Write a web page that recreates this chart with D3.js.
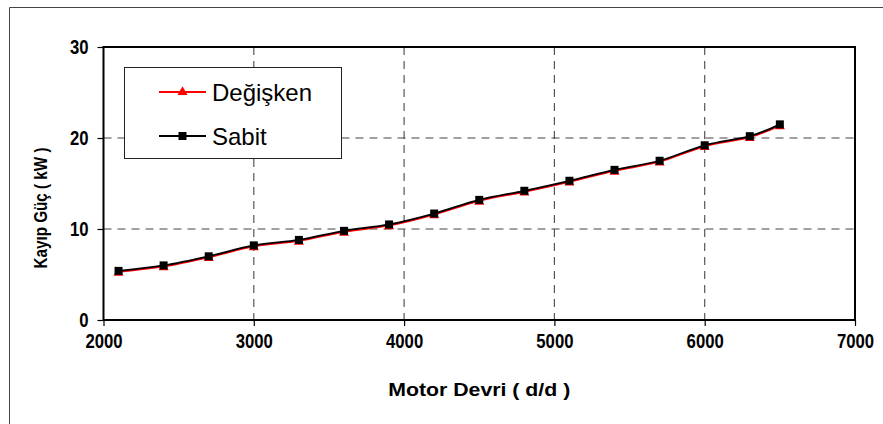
<!DOCTYPE html>
<html>
<head>
<meta charset="utf-8">
<script src="https://cdn.jsdelivr.net/npm/d3@7"></script>
<style>
  html, body { margin: 0; padding: 0; background: #fff; }
  svg { display: block; }
  .tick-label { font-family: "Liberation Sans", Arial, sans-serif; font-weight: bold; font-size: 21px; fill: #000; }
  .axis-title { font-family: "Liberation Sans", Arial, sans-serif; font-weight: bold; font-size: 19px; fill: #000; }
  .legend-text { font-family: "Liberation Sans", Arial, sans-serif; font-size: 24px; fill: #000; }
</style>
</head>
<body>
<script>
// Engine speed (rpm) and lost power (kW) for the two configurations
const rpm      = [2100, 2400, 2700, 3000, 3300, 3600, 3900, 4200, 4500, 4800, 5100, 5400, 5700, 6000, 6300, 6500];
const sabit    = [5.4, 6.0, 7.0, 8.2, 8.8, 9.8, 10.5, 11.7, 13.2, 14.2, 15.3, 16.5, 17.5, 19.2, 20.2, 21.5];
const degisken = [5.3, 5.9, 6.9, 8.1, 8.7, 9.7, 10.4, 11.6, 13.1, 14.1, 15.2, 16.4, 17.4, 19.1, 20.1, 21.4];

const xTicks = [2000, 3000, 4000, 5000, 6000, 7000];
const yTicks = [0, 10, 20, 30];

const W = 883, H = 424;
const plot = { left: 103.5, right: 855, top: 47, bottom: 320 };

const svg = d3.select("body").append("svg").attr("width", W).attr("height", H);

// outer chart frame
svg.append("path")
  .attr("d", `M9.5,${H} L9.5,7.5 L${W},7.5`)
  .attr("fill", "none").attr("stroke", "#444").attr("stroke-width", 1);

const x = d3.scaleLinear().domain([2000, 7000]).range([plot.left, plot.right]);
const y = d3.scaleLinear().domain([0, 30]).range([plot.bottom, plot.top]);

// dashed gridlines
const grid = svg.append("g");
grid.selectAll("line.v").data(xTicks.slice(1, -1)).enter().append("line")
  .attr("x1", d => x(d)).attr("x2", d => x(d))
  .attr("y1", plot.top).attr("y2", plot.bottom)
  .attr("stroke", "#555").attr("stroke-width", 1.2).attr("stroke-dasharray", "8,6");
grid.selectAll("line.h").data(yTicks.slice(1, -1)).enter().append("line")
  .attr("x1", plot.left).attr("x2", plot.right)
  .attr("y1", d => y(d)).attr("y2", d => y(d))
  .attr("stroke", "#444").attr("stroke-width", 1.2).attr("stroke-dasharray", "8,6");

// axes
const xAxis = d3.axisBottom(x).tickValues(xTicks).tickSize(6).tickPadding(7).tickFormat(d3.format("d"));
const yAxis = d3.axisLeft(y).tickValues(yTicks).tickSize(6).tickPadding(9).tickFormat(d3.format("d"));

const gx = svg.append("g").attr("transform", `translate(0,${plot.bottom})`).call(xAxis);
const gy = svg.append("g").attr("transform", `translate(${plot.left},0)`).call(yAxis);
[gx, gy].forEach(g => {
  g.select(".domain").remove();
  g.selectAll(".tick line").attr("stroke", "#000").attr("stroke-width", 1.2);
  g.selectAll(".tick text").attr("class", "tick-label")
    // condensed digits
    .attr("textLength", d => String(d).length * 9.3)
    .attr("lengthAdjust", "spacingAndGlyphs");
});
gx.selectAll(".tick text").attr("dy", "0.71em");

// plot area border
svg.append("rect")
  .attr("x", plot.left).attr("y", plot.top)
  .attr("width", plot.right - plot.left).attr("height", plot.bottom - plot.top)
  .attr("fill", "none").attr("stroke", "#000").attr("stroke-width", 2);

// axis titles
svg.append("text").attr("class", "axis-title")
  .attr("x", (plot.left + plot.right) / 2).attr("y", 396)
  .attr("text-anchor", "middle")
  .attr("textLength", 182).attr("lengthAdjust", "spacingAndGlyphs")
  .text("Motor Devri ( d/d )");
svg.append("text").attr("class", "axis-title")
  .attr("transform", "translate(47,208) rotate(-90)")
  .attr("text-anchor", "middle")
  .attr("textLength", 121).attr("lengthAdjust", "spacingAndGlyphs")
  .text("Kayıp Güç ( kW )");

// series
const line = d3.line().curve(d3.curveCardinal.tension(0));
const ptsD = rpm.map((r, i) => [x(r), y(degisken[i])]);
const ptsS = rpm.map((r, i) => [x(r), y(sabit[i])]);

const tri = d3.symbol().type(d3.symbolTriangle).size(44);
const sq = d3.symbol().type(d3.symbolSquare).size(64);

svg.append("path").attr("d", line(ptsD)).attr("fill", "none").attr("stroke", "#ff0000").attr("stroke-width", 2);
svg.append("g").selectAll("path").data(ptsD).enter().append("path")
  .attr("d", tri).attr("transform", d => `translate(${d[0]},${d[1] + 1})`).attr("fill", "#ff0000");

svg.append("path").attr("d", line(ptsS)).attr("fill", "none").attr("stroke", "#000").attr("stroke-width", 1.8);
svg.append("g").selectAll("path").data(ptsS).enter().append("path")
  .attr("d", sq).attr("transform", d => `translate(${d[0]},${d[1]})`).attr("fill", "#000");

// legend
const legend = svg.append("g");
legend.append("rect").attr("x", 124.5).attr("y", 67.5).attr("width", 217).attr("height", 91)
  .attr("fill", "#fff").attr("stroke", "#222").attr("stroke-width", 1);
const items = [
  { name: "Değişken", color: "#ff0000", sym: tri, cy: 92 },
  { name: "Sabit", color: "#000", sym: sq, cy: 136 }
];
items.forEach(it => {
  legend.append("line").attr("x1", 159).attr("x2", 206).attr("y1", it.cy).attr("y2", it.cy)
    .attr("stroke", it.color).attr("stroke-width", 2);
  legend.append("path").attr("d", it.sym).attr("transform", `translate(182.5,${it.cy})`).attr("fill", it.color);
  legend.append("text").attr("class", "legend-text").attr("x", 212).attr("y", it.cy + 8.5).text(it.name);
});
</script>
</body>
</html>
